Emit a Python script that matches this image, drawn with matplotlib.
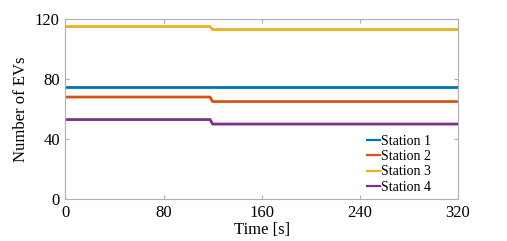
import matplotlib.pyplot as plt

# step change at ~118-120 s
time_s = [0, 118, 120, 320]
station1 = [75, 75, 75, 75]
station2 = [68, 68, 65, 65]
station3 = [115, 115, 113, 113]
station4 = [53, 53, 50, 50]
labels = ["Station 1", "Station 2", "Station 3", "Station 4"]
colors = ["#0072BD", "#D95319", "#EDB120", "#7E2F8E"]

plt.rcParams["font.family"] = ["Liberation Serif", "DejaVu Serif"]

fig = plt.figure(figsize=(5.07, 2.41), dpi=100)
ax = fig.add_axes([0.129, 0.174, 0.774, 0.747])

for y, lab, c in zip([station1, station2, station3, station4], labels, colors):
    ax.plot(time_s, y, color=c, lw=2, label=lab)

ax.set_xlim(0, 320)
ax.set_ylim(0, 120)
ax.set_xticks([0, 80, 160, 240, 320])
ax.set_yticks([0, 40, 80, 120])
ax.tick_params(direction="in", labelsize=12, length=3, color="#b0b0b0", top=True, right=True,
               labeltop=False, labelright=False, pad=4)
for s in ax.spines.values():
    s.set_color("#b0b0b0")
    s.set_linewidth(0.8)
ax.set_xlabel("Time [s]", fontsize=12, labelpad=1)
ax.set_ylabel("Number of EVs", fontsize=12, labelpad=4)

leg = ax.legend(loc="lower right", bbox_to_anchor=(0.945, 0.0), frameon=False, fontsize=10,
                handlelength=0.9, handletextpad=0.05, labelspacing=0.15, borderaxespad=0)
for h in leg.get_lines():
    h.set_linewidth(1.6)

fig.savefig("out.png", dpi=100)
